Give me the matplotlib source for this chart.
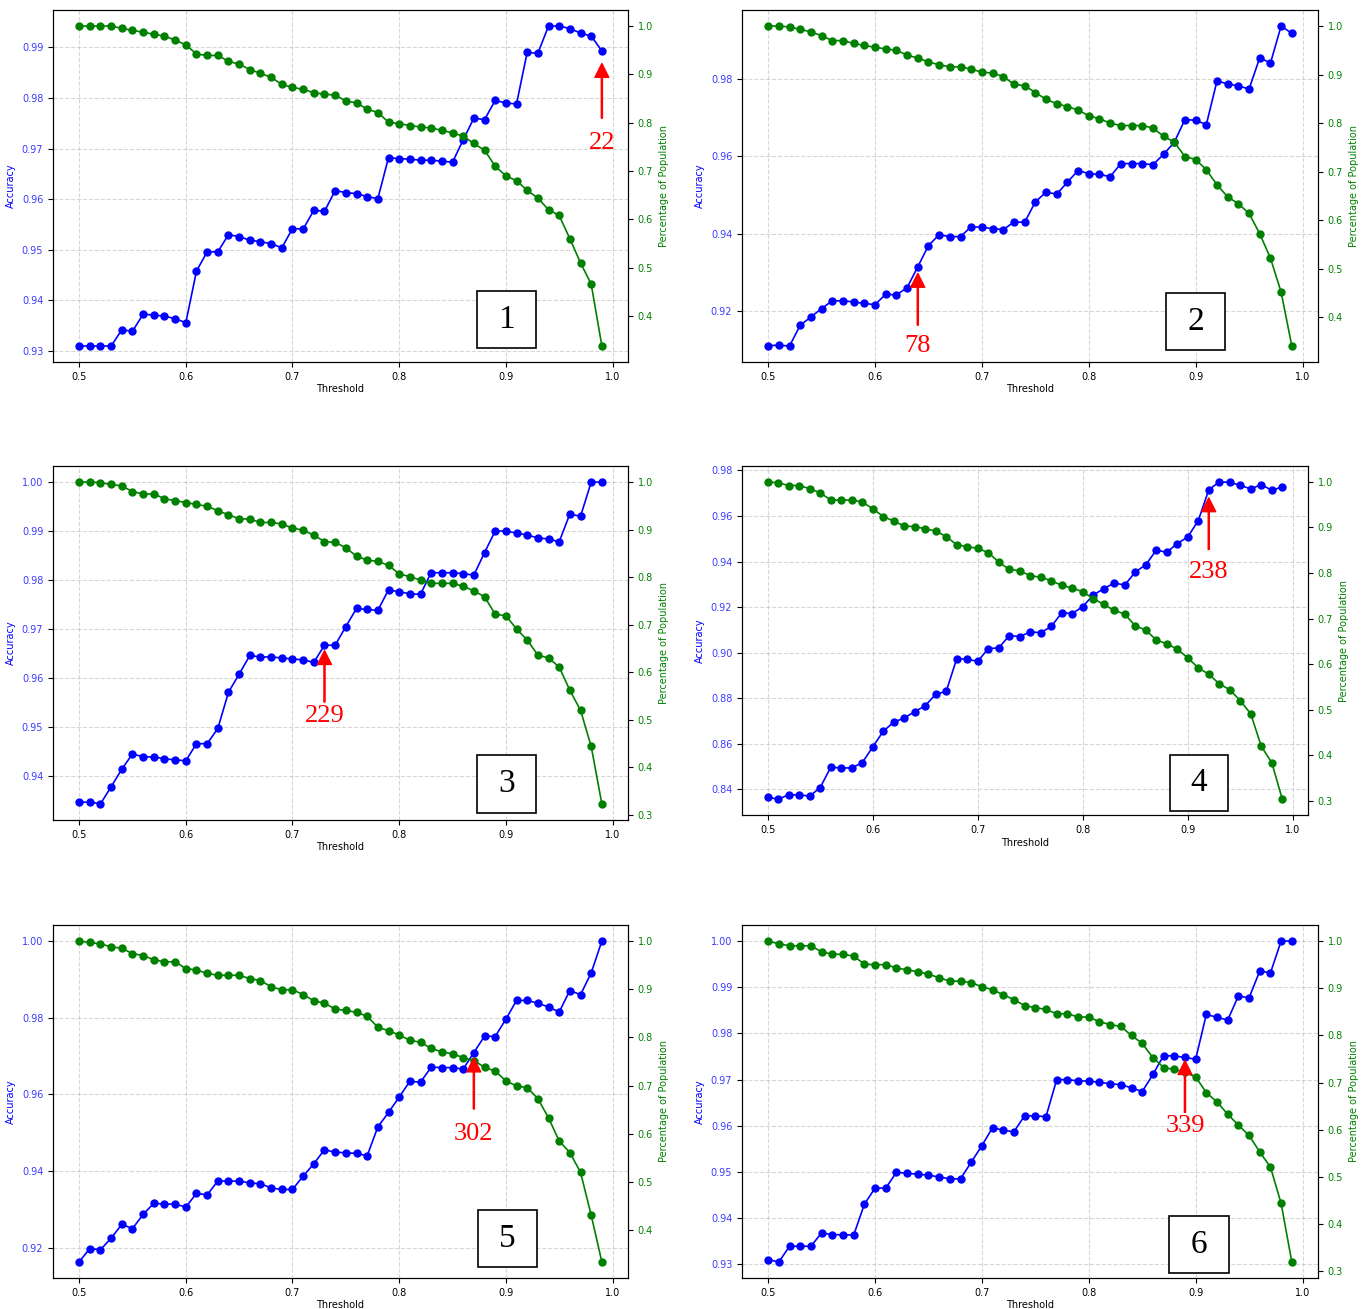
import numpy as np
import matplotlib
matplotlib.use("Agg")
from matplotlib import pyplot as plt
from matplotlib.patches import Rectangle

thresholds = [0.50, 0.51, 0.52, 0.53, 0.54, 0.55, 0.56, 0.57, 0.58, 0.59,
              0.60, 0.61, 0.62, 0.63, 0.64, 0.65, 0.66, 0.67, 0.68, 0.69,
              0.70, 0.71, 0.72, 0.73, 0.74, 0.75, 0.76, 0.77, 0.78, 0.79,
              0.80, 0.81, 0.82, 0.83, 0.84, 0.85, 0.86, 0.87, 0.88, 0.89,
              0.90, 0.91, 0.92, 0.93, 0.94, 0.95, 0.96, 0.97, 0.98, 0.99]

# accuracy (left axis) per panel
acc1 = [0.9310, 0.9310, 0.9310, 0.9310, 0.9342, 0.9339, 0.9373, 0.9371, 0.9369, 0.9364,
        0.9356, 0.9458, 0.9496, 0.9496, 0.9530, 0.9526, 0.9519, 0.9516, 0.9512, 0.9504,
        0.9542, 0.9541, 0.9578, 0.9576, 0.9617, 0.9613, 0.9611, 0.9605, 0.9601, 0.9682,
        0.9680, 0.9679, 0.9677, 0.9677, 0.9675, 0.9673, 0.9717, 0.9760, 0.9757, 0.9795,
        0.9790, 0.9788, 0.9890, 0.9888, 0.9942, 0.9942, 0.9937, 0.9928, 0.9922, 0.9893]
acc2 = [0.9110, 0.9111, 0.9109, 0.9163, 0.9184, 0.9206, 0.9226, 0.9226, 0.9223, 0.9219,
        0.9216, 0.9243, 0.9241, 0.9260, 0.9314, 0.9369, 0.9397, 0.9392, 0.9392, 0.9418,
        0.9416, 0.9413, 0.9410, 0.9430, 0.9429, 0.9482, 0.9507, 0.9502, 0.9533, 0.9563,
        0.9555, 0.9553, 0.9547, 0.9581, 0.9581, 0.9581, 0.9578, 0.9605, 0.9636, 0.9695,
        0.9693, 0.9682, 0.9795, 0.9787, 0.9782, 0.9774, 0.9855, 0.9841, 0.9937, 0.9918]
acc3 = [0.9346, 0.9347, 0.9343, 0.9378, 0.9414, 0.9445, 0.9439, 0.9439, 0.9435, 0.9433,
        0.9431, 0.9466, 0.9466, 0.9497, 0.9571, 0.9608, 0.9646, 0.9643, 0.9643, 0.9641,
        0.9639, 0.9637, 0.9632, 0.9667, 0.9667, 0.9705, 0.9742, 0.9740, 0.9738, 0.9780,
        0.9776, 0.9772, 0.9771, 0.9815, 0.9815, 0.9815, 0.9813, 0.9810, 0.9856, 0.9900,
        0.9900, 0.9896, 0.9892, 0.9886, 0.9884, 0.9878, 0.9935, 0.9930, 1.0000, 1.0000]
acc4 = [0.8365, 0.8357, 0.8376, 0.8376, 0.8370, 0.8408, 0.8497, 0.8494, 0.8494, 0.8517,
        0.8586, 0.8655, 0.8695, 0.8713, 0.8741, 0.8767, 0.8818, 0.8830, 0.8974, 0.8971,
        0.8962, 0.9018, 0.9021, 0.9075, 0.9071, 0.9091, 0.9088, 0.9115, 0.9175, 0.9172,
        0.9202, 0.9253, 0.9281, 0.9306, 0.9297, 0.9354, 0.9386, 0.9450, 0.9441, 0.9479,
        0.9508, 0.9580, 0.9715, 0.9750, 0.9748, 0.9735, 0.9719, 0.9738, 0.9713, 0.9728]
acc5 = [0.9163, 0.9198, 0.9195, 0.9225, 0.9261, 0.9250, 0.9287, 0.9316, 0.9314, 0.9314,
        0.9306, 0.9342, 0.9338, 0.9374, 0.9374, 0.9374, 0.9369, 0.9367, 0.9356, 0.9352,
        0.9352, 0.9387, 0.9419, 0.9456, 0.9449, 0.9448, 0.9446, 0.9440, 0.9515, 0.9553,
        0.9593, 0.9634, 0.9632, 0.9671, 0.9670, 0.9670, 0.9666, 0.9709, 0.9752, 0.9751,
        0.9796, 0.9845, 0.9845, 0.9838, 0.9828, 0.9815, 0.9871, 0.9860, 0.9917, 1.0000]
acc6 = [0.9310, 0.9305, 0.9339, 0.9339, 0.9339, 0.9368, 0.9364, 0.9364, 0.9363, 0.9430,
        0.9465, 0.9465, 0.9499, 0.9497, 0.9495, 0.9493, 0.9489, 0.9485, 0.9485, 0.9521,
        0.9557, 0.9596, 0.9590, 0.9587, 0.9622, 0.9621, 0.9620, 0.9700, 0.9700, 0.9697,
        0.9697, 0.9694, 0.9691, 0.9689, 0.9682, 0.9674, 0.9711, 0.9752, 0.9751, 0.9748,
        0.9744, 0.9841, 0.9835, 0.9829, 0.9881, 0.9877, 0.9935, 0.9931, 1.0000, 1.0000]

# percentage of population (right axis) per panel
pop1 = [1.000, 1.000, 1.000, 1.000, 0.995, 0.991, 0.987, 0.983, 0.979, 0.971,
        0.961, 0.942, 0.939, 0.939, 0.927, 0.921, 0.910, 0.902, 0.894, 0.879,
        0.873, 0.869, 0.862, 0.859, 0.857, 0.845, 0.841, 0.828, 0.821, 0.801,
        0.798, 0.794, 0.791, 0.789, 0.784, 0.779, 0.772, 0.757, 0.743, 0.710,
        0.690, 0.680, 0.660, 0.644, 0.620, 0.608, 0.560, 0.510, 0.466, 0.338]
pop2 = [1.000, 1.000, 0.998, 0.993, 0.988, 0.980, 0.970, 0.970, 0.964, 0.960,
        0.956, 0.953, 0.950, 0.940, 0.934, 0.926, 0.920, 0.916, 0.916, 0.911,
        0.905, 0.903, 0.896, 0.880, 0.877, 0.863, 0.849, 0.840, 0.834, 0.827,
        0.815, 0.809, 0.800, 0.795, 0.795, 0.795, 0.790, 0.773, 0.761, 0.731,
        0.725, 0.704, 0.673, 0.648, 0.634, 0.614, 0.572, 0.522, 0.452, 0.341]
pop3 = [1.000, 1.000, 0.999, 0.995, 0.992, 0.980, 0.975, 0.975, 0.965, 0.961,
        0.957, 0.953, 0.949, 0.940, 0.931, 0.923, 0.922, 0.915, 0.915, 0.912,
        0.903, 0.899, 0.888, 0.875, 0.873, 0.862, 0.844, 0.836, 0.833, 0.825,
        0.807, 0.801, 0.794, 0.787, 0.787, 0.787, 0.781, 0.771, 0.759, 0.722,
        0.719, 0.691, 0.668, 0.636, 0.630, 0.611, 0.562, 0.520, 0.444, 0.323]
pop4 = [1.000, 0.998, 0.992, 0.992, 0.985, 0.976, 0.960, 0.960, 0.960, 0.956,
        0.941, 0.924, 0.914, 0.903, 0.902, 0.897, 0.892, 0.880, 0.862, 0.858,
        0.854, 0.845, 0.824, 0.808, 0.805, 0.794, 0.791, 0.783, 0.773, 0.767,
        0.759, 0.744, 0.731, 0.718, 0.710, 0.684, 0.675, 0.653, 0.645, 0.633,
        0.614, 0.592, 0.578, 0.557, 0.544, 0.520, 0.491, 0.420, 0.384, 0.304]
pop5 = [1.000, 0.997, 0.994, 0.988, 0.985, 0.974, 0.970, 0.961, 0.957, 0.957,
        0.943, 0.940, 0.933, 0.929, 0.929, 0.929, 0.922, 0.918, 0.905, 0.899,
        0.899, 0.889, 0.876, 0.871, 0.859, 0.856, 0.852, 0.844, 0.821, 0.814,
        0.805, 0.794, 0.790, 0.777, 0.770, 0.766, 0.758, 0.752, 0.738, 0.730,
        0.710, 0.699, 0.696, 0.673, 0.633, 0.585, 0.561, 0.520, 0.431, 0.334]
pop6 = [1.000, 0.994, 0.990, 0.990, 0.990, 0.977, 0.972, 0.972, 0.968, 0.951,
        0.950, 0.950, 0.943, 0.939, 0.935, 0.930, 0.922, 0.915, 0.915, 0.912,
        0.903, 0.897, 0.886, 0.876, 0.863, 0.859, 0.855, 0.846, 0.846, 0.839,
        0.839, 0.829, 0.823, 0.819, 0.800, 0.783, 0.753, 0.732, 0.728, 0.722,
        0.712, 0.679, 0.659, 0.633, 0.610, 0.588, 0.553, 0.521, 0.444, 0.320]

panel_ids = ["1", "2", "3", "4", "5", "6"]
mark_labels = ["22", "78", "229", "238", "302", "339"]
mark_x = [0.99, 0.64, 0.73, 0.92, 0.87, 0.89]

accs = [acc1, acc2, acc3, acc4, acc5, acc6]
pops = [pop1, pop2, pop3, pop4, pop5, pop6]

# annotation geometry: (arrow head y, arrow tail y, text y) in accuracy units
mark_geom = [(0.9868, 0.9760, 0.9710),
             (0.9297, 0.9163, 0.9108),
             (0.9656, 0.9551, 0.9522),
             (0.9680, 0.9453, 0.9355),
             (0.9695, 0.9562, 0.9497),
             (0.9741, 0.9629, 0.9600)]
# number box position in axes fraction (x0, y0)
box_pos = [(0.737, 0.040), (0.736, 0.033), (0.737, 0.021),
           (0.756, 0.011), (0.739, 0.030), (0.742, 0.014)]

W, H = 1362, 1309
# pixel boxes (left, top, right, bottom)
panel_px = [(53, 10, 628, 362), (742, 10, 1318, 362),
            (53, 466, 628, 820), (742, 466, 1308, 815),
            (53, 925, 628, 1278), (742, 925, 1318, 1278)]

fig = plt.figure(figsize=(W / 100, H / 100), dpi=100)
serif = ["Liberation Serif", "DejaVu Serif"]

for i in range(6):
    l, t, r, b = panel_px[i]
    ax = fig.add_axes([l / W, 1 - b / H, (r - l) / W, (b - t) / H])
    ax.plot(thresholds, accs[i], color="b", marker="o", ms=5, lw=1.2)
    ax.set_xlabel("Threshold", fontsize=7, labelpad=2)
    ax.set_ylabel("Accuracy", color="b", fontsize=7)
    ax.tick_params(axis="y", labelcolor="#3b3bff", labelsize=7)
    ax.tick_params(axis="x", labelsize=7)
    ax.set_xticks([0.5, 0.6, 0.7, 0.8, 0.9, 1.0])
    ax.grid(True, linestyle="--", alpha=0.5, lw=0.8)

    ax2 = ax.twinx()
    ax2.plot(thresholds, pops[i], color="g", marker="o", ms=5, lw=1.2)
    ax2.set_ylabel("Percentage of Population", color="g", fontsize=7)
    ax2.tick_params(axis="y", labelcolor="g", labelsize=7)

    # arrow + label drawn on the top axes, in accuracy coordinates
    head, tail, ty = mark_geom[i]
    ax2.annotate("", xy=(mark_x[i], head), xytext=(mark_x[i], tail),
                 xycoords=ax.transData, textcoords=ax.transData,
                 arrowprops=dict(facecolor="red", edgecolor="red", width=0.8,
                                 headwidth=10, headlength=10, shrink=0),
                 zorder=5)
    ax2.text(mark_x[i], ty, mark_labels[i], transform=ax.transData,
             color="red", fontsize=19, family=serif,
             ha="center", va="center", zorder=5)

    bx, by = box_pos[i]
    ax2.add_patch(Rectangle((bx, by), 0.103, 0.162, transform=ax2.transAxes,
                            fc="white", ec="black", lw=1.2, zorder=6))
    ax2.text(bx + 0.0515, by + 0.081, panel_ids[i], transform=ax2.transAxes,
             fontsize=24, family=serif, ha="center", va="center", zorder=7)

fig.savefig("out.png", dpi=100)
